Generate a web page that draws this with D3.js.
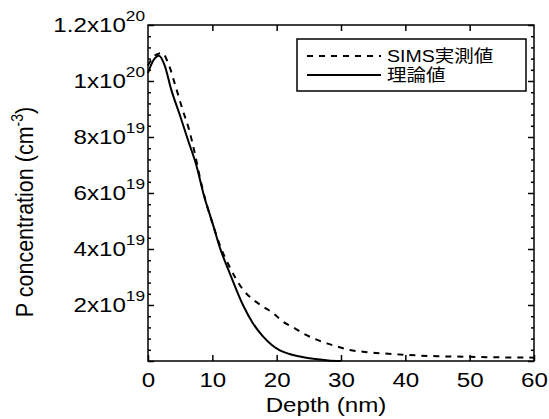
<!DOCTYPE html>
<html>
<head>
<meta charset="utf-8">
<script src="https://cdn.jsdelivr.net/npm/d3@7"></script>
<style>
	body { margin:0; background:#fff; }
	svg { display:block; font-family:"Liberation Sans", Arial, "Noto Sans CJK JP", sans-serif; }
	.tick line { stroke:#000; stroke-width:1.5; }
	.curve { fill:none; stroke:#000; stroke-width:2; }
	.dashed { stroke-dasharray:6,6; }
</style>
</head>
<body>
<div id="player"></div>
<script>

// DATA (concentrations in units of 1e19 cm^-3)
var simsDepth = [0, 1.0, 2.2, 3.2, 4.3, 5.4, 6.4, 7.3, 8.1, 9.0, 10.1, 11.3, 12.6, 14.8, 16.4, 17.9, 19.5, 21.0, 22.6, 24.1, 25.7, 27.8, 29.8, 31.4, 33.4, 36, 40, 45, 50, 55, 60];
var simsConc  = [10.55, 10.9, 11.0, 10.6, 9.8, 8.96, 8.25, 7.39, 6.52, 5.69, 4.86, 4.06, 3.4, 2.54, 2.18, 1.94, 1.70, 1.40, 1.20, 0.99, 0.81, 0.63, 0.49, 0.39, 0.33, 0.28, 0.22, 0.17, 0.15, 0.13, 0.12];

var theoryDepth = [0, 0.8, 1.7, 2.6, 3.6, 5.0, 6.2, 7.5, 8.7, 10.0, 11.2, 12.7, 14.8, 16.3, 17.9, 19.2, 20.5, 22.0, 24.0, 26.0, 28.0, 30.0];
var theoryConc  = [10.29, 10.72, 10.9, 10.55, 9.7, 8.75, 7.9, 7.0, 5.9, 4.95, 4.03, 3.14, 1.98, 1.35, 0.87, 0.58, 0.38, 0.25, 0.14, 0.07, 0.02, 0];

var depthTicks = [0, 10, 20, 30, 40, 50, 60];
var concTicks = [0, 2, 4, 6, 8, 10, 12];
var concTickMantissa = ["", "2", "4", "6", "8", "1", "1.2"];
var concTickExponent = ["", "19", "19", "19", "19", "20", "20"];
var concMinorTicks = d3.range(0, 12.01, 0.4).filter(function(v){ return Math.abs(v/2 - Math.round(v/2)) > 1e-6; });

var legendLabels = ["SIMS実測値", "理論値"];

/////////////////////////

// the original text is a bit wide, so stretch it horizontally
var stretch = "scale(1.15,1)";

// set the dimensions and margins of the graph
var margin = {top:25, right:15, bottom:58, left:148},
    width = 549 - margin.left - margin.right,
    height = 419 - margin.top - margin.bottom;

// set the ranges
var x = d3.scaleLinear().domain([0, 60]).range([0, width]);
var y = d3.scaleLinear().domain([0, 12]).range([height, 0]);

var svg = d3.select("#player").append("svg")
	.attr("width", 549)
	.attr("height", 419);
var chart = svg.append("g")
	.attr("transform", "translate("+margin.left+","+margin.top+")");

// Curves
var pathline = d3.line()
	.x(function(d){ return x(d[0]); })
	.y(function(d){ return y(d[1]); })
	.curve(d3.curveMonotoneX);

chart.append("path")
	.attr("class", "curve")
	.attr("d", pathline(d3.zip(theoryDepth, theoryConc)));
chart.append("path")
	.attr("class", "curve dashed")
	.attr("d", pathline(d3.zip(simsDepth, simsConc)));

// Axes: ticks point inward on all four sides
var xBottom = chart.append("g")
	.attr("transform", "translate(0,"+height+")")
	.call(d3.axisBottom(x).tickValues(depthTicks).tickSizeInner(-6).tickSizeOuter(0));
xBottom.selectAll("text")
	.attr("y", 11)
	.attr("dy", "0.71em")
	.attr("transform", stretch)
	.style("font-size", "21px")
	.style("fill", "#000");

chart.append("g")
	.call(d3.axisTop(x).tickValues(depthTicks.slice(1, -1)).tickSizeInner(-6).tickSizeOuter(0).tickFormat(""));

chart.append("g")
	.call(d3.axisLeft(y).tickValues(concTicks).tickSizeInner(-6).tickSizeOuter(0).tickFormat(""));
chart.append("g")
	.call(d3.axisLeft(y).tickValues(concMinorTicks).tickSizeInner(-3).tickSizeOuter(0).tickFormat(""));
chart.append("g")
	.attr("transform", "translate("+width+",0)")
	.call(d3.axisRight(y).tickValues(concTicks).tickSizeInner(-6).tickSizeOuter(0).tickFormat(""));
chart.append("g")
	.attr("transform", "translate("+width+",0)")
	.call(d3.axisRight(y).tickValues(concMinorTicks).tickSizeInner(-3).tickSizeOuter(0).tickFormat(""));
chart.selectAll(".domain").remove();

// y tick labels like 2x10^19
concTicks.forEach(function(v, i){
	if(!concTickMantissa[i]) return;
	var t = chart.append("g")
		.attr("transform", "translate(-3,"+(y(v)+7)+")")
	  .append("text")
		.attr("transform", stretch)
		.style("text-anchor", "end")
		.style("font-size", "21px");
	t.append("tspan").text(concTickMantissa[i]+"x10");
	t.append("tspan").attr("dy", -11).style("font-size", "15px").text(concTickExponent[i]);
});

// Frame
chart.append("rect")
	.attr("width", width)
	.attr("height", height)
	.style("fill", "none")
	.style("stroke", "#000")
	.style("stroke-width", 1.5);

// Axis Labels
svg.append("text")
	.attr("transform", "translate(326,412) " + stretch)
	.style("text-anchor", "middle")
	.style("font-size", "21px")
	.text("Depth (nm)");

var ylab = svg.append("text")
	.attr("transform", "translate(33,212) rotate(-90) scale(1,1.15)")
	.style("text-anchor", "middle")
	.style("font-size", "21.5px");
ylab.append("tspan").text("P concentration (cm");
ylab.append("tspan").attr("dy", -9).style("font-size", "14px").text("-3");
ylab.append("tspan").attr("dy", 9).text(")");

// Legend
var legend = svg.append("g").attr("transform", "translate(297,39)");
legend.append("rect")
	.attr("width", 229)
	.attr("height", 52)
	.style("fill", "#fff")
	.style("stroke", "#000")
	.style("stroke-width", 1.5);
legendLabels.forEach(function(label, i){
	var ly = 17 + i*19;
	legend.append("line")
		.attr("class", i==0 ? "curve dashed" : "curve")
		.attr("x1", 10).attr("x2", 84)
		.attr("y1", ly).attr("y2", ly);
	legend.append("text")
		.attr("transform", "translate(90,"+ly+") " + stretch)
		.attr("dy", "0.36em")
		.style("font-size", "17px")
		.text(label);
});

</script>
</body>
</html>
